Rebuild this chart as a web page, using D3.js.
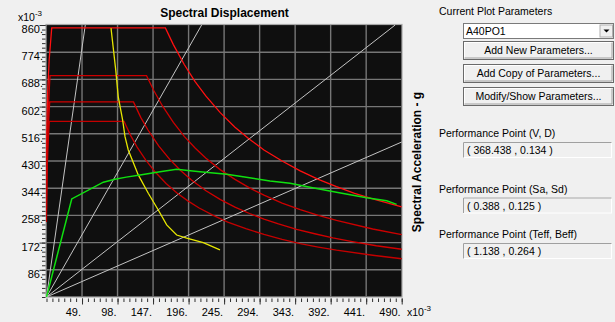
<!DOCTYPE html>
<html>
<head>
<style>
body { margin: 0; background: #f0f0f0; }
svg { display: block; font-family: "Liberation Sans", Arial, sans-serif; }
</style>
</head>
<body>
<script src="https://d3js.org/d3.v7.min.js"></script>
<script>
var width = 615, height = 322;

// all values in x10-3 (Sd along x, Sa along y)
var xTickVals = [49, 98, 147, 196, 245, 294, 343, 392, 441, 490];
var yTickVals = [86, 172, 258, 344, 430, 516, 602, 688, 774, 860];

// constant period lines from the origin, end points
var periodEnds = [[53.5, 860], [214, 860], [481, 860], [490, 490]];

var demandA = [[0, 400], [0.4, 520], [1.5, 640], [3.7, 750], [7.2, 851], [164, 851], [175, 798], [190, 735], [205, 681], [220, 635], [240, 582], [260, 537], [280, 499], [300, 465], [325, 430], [350, 399], [375, 372], [400, 349], [425, 328], [450, 310], [490, 285]];
var demandB = [[0, 320], [0.3, 420], [1.2, 520], [2.8, 610], [4.8, 700], [138, 700], [148, 653], [160, 604], [175, 552], [190, 508], [205, 471], [220, 439], [240, 402], [260, 372], [280, 345], [300, 322], [325, 297], [350, 276], [375, 258], [400, 242], [450, 215], [490, 197]];
var demandC = [[0, 280], [0.3, 370], [1.1, 460], [2.5, 540], [4.4, 617], [120, 617], [130, 568], [140, 528], [155, 477], [170, 435], [185, 400], [200, 370], [220, 336], [240, 308], [260, 284], [280, 264], [300, 246], [320, 231], [345, 214], [370, 200], [395, 187], [420, 176], [455, 162], [490, 151]];
var demandD = [[0, 237], [0.3, 320], [1, 410], [2.3, 490], [3.9, 555], [107, 555], [116, 511], [125, 474], [137, 433], [150, 395], [165, 359], [180, 329], [195, 304], [210, 282], [230, 258], [250, 237], [275, 216], [300, 198], [325, 182], [350, 169], [375, 158], [400, 148], [450, 132], [490, 121]];
var demandSpectra = [demandA, demandB, demandC, demandD];
var demandColors = ["#ff1010", "#cc0000", "#d00000", "#c40000"];

var capacity = [[0, 0], [34.8, 310], [78.4, 363], [94.5, 372], [110, 379], [129, 386], [156.6, 396], [179.6, 404], [195, 400], [211.8, 396], [248.6, 388], [280, 377], [308.3, 367], [336, 359.5], [363.4, 347], [400, 331], [441.7, 314], [469.3, 304.5], [483, 293]];

var reducedDemand = [[89, 850], [95.5, 718], [99, 633], [105, 560], [108.3, 507], [112.8, 465], [126.6, 386], [140.4, 328], [154.2, 275], [165.8, 228], [179.6, 196], [193.4, 186], [216.3, 172], [239.3, 149]];

var perfLabels = ["Performance Point (V, D)", "Performance Point (Sa, Sd)", "Performance Point (Teff, Beff)"];
var perfValues = ["( 368.438 , 0.134 )", "( 0.388 , 0.125 )", "( 1.138 , 0.264 )"];
var buttonLabels = ["Add New Parameters...", "Add Copy of Parameters...", "Modify/Show Parameters..."];

var svg = d3.select("body").append("svg")
    .attr("width", width)
    .attr("height", height);

var x = d3.scaleLinear().domain([0, 490]).range([46.5, 401.7]);
var y = d3.scaleLinear().domain([0, 860]).range([297, 25]);

// plot area
svg.append("rect")
    .attr("x", 46).attr("y", 24.5)
    .attr("width", 356).attr("height", 272.5)
    .attr("fill", "#0f0f0f")
    .attr("stroke", "#a8a8a8")
    .attr("stroke-width", 1.2);

svg.append("clipPath").attr("id", "clip")
  .append("rect")
    .attr("x", 46).attr("y", 24.5)
    .attr("width", 356).attr("height", 272.5);

var plot = svg.append("g").attr("clip-path", "url(#clip)");

// grid
plot.selectAll(".vgrid")
    .data(xTickVals.slice(0, -1))
  .enter().append("line")
    .attr("x1", function(d){ return x(d); })
    .attr("x2", function(d){ return x(d); })
    .attr("y1", y(0)).attr("y2", y(860))
    .attr("stroke", "#767676").attr("stroke-width", 1.4);

plot.selectAll(".hgrid")
    .data(yTickVals.slice(0, -1))
  .enter().append("line")
    .attr("y1", function(d){ return y(d); })
    .attr("y2", function(d){ return y(d); })
    .attr("x1", x(0)).attr("x2", x(490))
    .attr("stroke", "#767676").attr("stroke-width", 1.4);

// period lines
plot.selectAll(".period")
    .data(periodEnds)
  .enter().append("line")
    .attr("x1", x(0)).attr("y1", y(0))
    .attr("x2", function(d){ return x(d[0]); })
    .attr("y2", function(d){ return y(d[1]); })
    .attr("stroke", "#c4c4c4").attr("stroke-width", 1);

var line = d3.line()
    .x(function(d){ return x(d[0]); })
    .y(function(d){ return y(d[1]); });

plot.selectAll(".demand")
    .data(demandSpectra)
  .enter().append("path")
    .attr("d", line)
    .attr("fill", "none")
    .attr("stroke", function(d, i){ return demandColors[i]; })
    .attr("stroke-width", 1.3);

plot.append("path")
    .attr("d", line(reducedDemand))
    .attr("fill", "none")
    .attr("stroke", "#e6e600")
    .attr("stroke-width", 1.3);

plot.append("path")
    .attr("d", line(capacity))
    .attr("fill", "none")
    .attr("stroke", "#10e010")
    .attr("stroke-width", 1.5);

// ticks
var xMinor = d3.range(0, 490.01, 49 / 6);
var yMinor = d3.range(0, 860.01, 86 / 6);

svg.append("g")
    .attr("transform", "translate(0,298.5)")
    .call(d3.axisBottom(x).tickValues(xMinor).tickSize(3.5).tickFormat(""))
    .call(function(g){ g.select(".domain").remove(); g.selectAll("line").attr("stroke", "#303030"); });
svg.append("g")
    .attr("transform", "translate(0,298.5)")
    .call(d3.axisBottom(x).tickValues(xTickVals).tickSize(6).tickFormat(""))
    .call(function(g){ g.select(".domain").remove(); g.selectAll("line").attr("stroke", "#303030"); });

svg.append("g")
    .attr("transform", "translate(45.5,0)")
    .call(d3.axisLeft(y).tickValues(yMinor).tickSize(3.5).tickFormat(""))
    .call(function(g){ g.select(".domain").remove(); g.selectAll("line").attr("stroke", "#303030"); });
svg.append("g")
    .attr("transform", "translate(45.5,0)")
    .call(d3.axisLeft(y).tickValues(yTickVals).tickSize(6).tickFormat(""))
    .call(function(g){ g.select(".domain").remove(); g.selectAll("line").attr("stroke", "#303030"); });

// tick labels
svg.selectAll(".xlab")
    .data(xTickVals)
  .enter().append("text")
    .attr("x", function(d){ return x(d) - 1; })
    .attr("y", 316)
    .attr("text-anchor", "end")
    .attr("font-size", 11)
    .attr("fill", "#000")
    .text(function(d){ return d + "."; });

svg.selectAll(".ylab")
    .data(yTickVals)
  .enter().append("text")
    .attr("x", 43)
    .attr("y", function(d){ return y(d) + 8; })
    .attr("text-anchor", "end")
    .attr("font-size", 11)
    .attr("fill", "#000")
    .text(function(d){ return d + "."; });

function scaleNote(px, py) {
  var t = svg.append("text").attr("x", px).attr("y", py).attr("font-size", 10.5);
  t.append("tspan").text("x10");
  t.append("tspan").attr("dy", -5).attr("font-size", 8).text("-3");
}
scaleNote(18, 21);
scaleNote(407, 316);

// titles
svg.append("text")
    .attr("x", 224.5).attr("y", 17)
    .attr("text-anchor", "middle")
    .attr("font-size", 12).attr("font-weight", "bold")
    .text("Spectral Displacement");

svg.append("text")
    .attr("transform", "translate(421,162) rotate(-90)")
    .attr("text-anchor", "middle")
    .attr("font-size", 12).attr("font-weight", "bold")
    .text("Spectral Acceleration - g");

// right panel
var panel = svg.append("g").attr("font-size", 10.5);

panel.append("text").attr("x", 439).attr("y", 15).text("Current Plot Parameters");

panel.append("rect")
    .attr("x", 463.5).attr("y", 23.5).attr("width", 150).attr("height", 15)
    .attr("fill", "#fff").attr("stroke", "#7a7a7a");
panel.append("text").attr("x", 466).attr("y", 35).text("A40PO1");
panel.append("rect")
    .attr("x", 600).attr("y", 25).attr("width", 12.5).attr("height", 12)
    .attr("fill", "#f0f0f0").attr("stroke", "#b0b0b0");
panel.append("path")
    .attr("d", "M603.5,29.5 L609.5,29.5 L606.5,32.5 Z")
    .attr("fill", "#000");

var buttons = panel.selectAll(".btn")
    .data(buttonLabels)
  .enter().append("g")
    .attr("transform", function(d, i){ return "translate(463.5," + (41.5 + i * 23) + ")"; });
buttons.append("rect")
    .attr("width", 150).attr("height", 18)
    .attr("fill", "#f0f0f0").attr("stroke", "#6a6a6a");
buttons.append("path")
    .attr("d", "M1,17 L1,1 L149,1")
    .attr("fill", "none").attr("stroke", "#fff");
buttons.append("path")
    .attr("d", "M1,16.5 L148.5,16.5 L148.5,1")
    .attr("fill", "none").attr("stroke", "#a0a0a0");
buttons.append("text")
    .attr("x", 75).attr("y", 12.5)
    .attr("text-anchor", "middle")
    .text(function(d){ return d; });

var perfY = [133, 188.5, 234];
var perf = panel.selectAll(".perf")
    .data(perfLabels)
  .enter().append("g")
    .attr("transform", function(d, i){ return "translate(0," + perfY[i] + ")"; });
perf.append("text").attr("x", 439).attr("y", 4).text(function(d){ return d; });
perf.append("rect")
    .attr("x", 463.5).attr("y", 9.5).attr("width", 148).attr("height", 15)
    .attr("fill", "#f0f0f0").attr("stroke", "#fff");
perf.append("path")
    .attr("d", "M463.5,24.5 L463.5,9.5 L611.5,9.5")
    .attr("fill", "none").attr("stroke", "#a0a0a0");
perf.append("text")
    .attr("x", 467).attr("y", 21)
    .text(function(d, i){ return perfValues[i]; });
</script>
</body>
</html>
